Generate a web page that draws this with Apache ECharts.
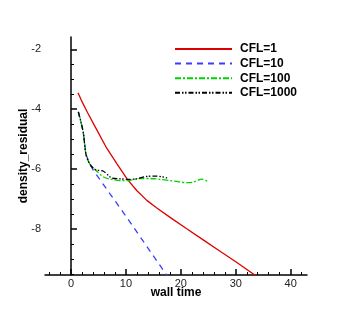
<!DOCTYPE html>
<html><head><meta charset="utf-8">
<script src="https://cdn.jsdelivr.net/npm/echarts@6/dist/echarts.min.js"></script>
<style>html,body{margin:0;padding:0;background:#fff}#c{width:349px;height:310px}</style>
</head><body><div id="c"></div>
<script>
const seriesNames = ['CFL=1', 'CFL=10', 'CFL=100', 'CFL=1000'];
const cfl1 = [[1.27,-3.45],[1.8,-3.67],[3,-4.11],[4.5,-4.62],[6.5,-5.3],[8.4,-5.83],[10.26,-6.34],[12,-6.72],[13.8,-7.04],[15.5,-7.28],[18.3,-7.64],[21,-7.98],[24,-8.35],[27,-8.72],[30,-9.09],[34,-9.6]];
const cfl10 = [[1.33,-4.09],[1.8,-4.42],[2.24,-4.79],[2.73,-5.51],[3.46,-5.84],[4.07,-6.04],[10.0,-7.57],[17.6,-9.58]];
const cfl100 = [[1.33,-4.09],[1.8,-4.42],[2.24,-4.79],[2.73,-5.51],[3.46,-5.84],[4.37,-6.01],[4.98,-6.12],[6.0,-6.27],[7.4,-6.34],[8.93,-6.38],[10.75,-6.37],[12.6,-6.31],[14.4,-6.31],[16.2,-6.34],[18.0,-6.38],[19.6,-6.42],[21.1,-6.45],[22.3,-6.43],[23.8,-6.33],[25.0,-6.42]];
const cfl1000 = [[1.33,-4.09],[1.8,-4.42],[2.24,-4.79],[2.73,-5.51],[3.46,-5.84],[4.37,-6.01],[4.98,-6.04],[5.9,-6.07],[7.4,-6.29],[8.93,-6.32],[10.4,-6.34],[11.97,-6.32],[13.8,-6.24],[15.6,-6.23],[17.5,-6.29]];
const xMajor = [0,10,20,30,40];
const xMinor = [-4,-2,2,4,6,8,12,14,16,18,22,24,26,28,32,34,36,38,42];
const yMajor = [-8,-6,-4,-2];
const yMinor = [-9.5,-9,-8.5,-7.5,-7,-6.5,-5.5,-5,-4.5,-3.5,-3,-2.5];
const X_MIN = -4.74, X_MAX = 42.97, Y_MIN = -9.53, Y_MAX = -1.59;

const chart = echarts.init(document.getElementById('c'));
const lab = {color:'#222', fontFamily:'Liberation Sans, Arial', fontSize:11};
chart.setOption({
  animation:false,
  grid:{left:45,right:42,top:37,bottom:35},
  legend:{orient:'vertical',left:169,top:38,itemWidth:57,itemHeight:12,itemGap:2.6,
    itemStyle:{opacity:0},
    textStyle:{fontFamily:'Liberation Sans, Arial',fontSize:12,fontWeight:'bold',color:'#000',padding:[0,0,0,3]},
    data:seriesNames},
  xAxis:[
    {type:'value',min:X_MIN,max:X_MAX,name:'wall time',nameLocation:'middle',nameGap:12,nameMoveOverlap:false,
     nameTextStyle:{fontFamily:'Liberation Sans, Arial',fontSize:12,fontWeight:'bold',color:'#000',verticalAlign:'top'},
     axisLine:{lineStyle:{color:'#000',width:1.5}},
     axisTick:{inside:true,length:6,customValues:xMajor,lineStyle:{color:'#000',width:1.5}},
     axisLabel:{customValues:xMajor,margin:3,...lab},splitLine:{show:false}},
    {type:'value',min:X_MIN,max:X_MAX,position:'bottom',
     axisLine:{show:false},axisTick:{inside:true,length:3,customValues:xMinor,lineStyle:{color:'#000',width:1}},
     axisLabel:{show:false},splitLine:{show:false}}
  ],
  yAxis:[
    {type:'value',min:Y_MIN,max:Y_MAX,name:'density_residual',nameLocation:'middle',nameGap:15,nameMoveOverlap:false,
     nameTextStyle:{fontFamily:'Liberation Sans, Arial',fontSize:12,fontWeight:'bold',color:'#000'},
     axisLine:{show:true,lineStyle:{color:'#000',width:1.5}},
     axisTick:{show:true,inside:true,length:6,customValues:yMajor,lineStyle:{color:'#000',width:1.5}},
     axisLabel:{customValues:yMajor,margin:4,...lab},splitLine:{show:false}},
    {type:'value',min:Y_MIN,max:Y_MAX,position:'left',
     axisLine:{show:false},axisTick:{show:true,inside:true,length:3,customValues:yMinor,lineStyle:{color:'#000',width:1}},
     axisLabel:{show:false},splitLine:{show:false}}
  ],
  series:[
    {name:seriesNames[0],type:'line',data:cfl1,symbol:'none',lineStyle:{color:'#dd0000',width:1.3},itemStyle:{color:'#dd0000'}},
    {name:seriesNames[1],type:'line',data:cfl10,symbol:'none',lineStyle:{color:'#3c3cff',width:1.3,type:[6,5]},itemStyle:{color:'#3c3cff'}},
    {name:seriesNames[2],type:'line',data:cfl100,symbol:'none',smooth:0.3,lineStyle:{color:'#00d000',width:1.3,type:[6,2,2,2]},itemStyle:{color:'#00d000'}},
    {name:seriesNames[3],type:'line',data:cfl1000,symbol:'none',smooth:0.3,lineStyle:{color:'#000',width:1.3,type:[5,2,1.5,1.5,1.5,2]},itemStyle:{color:'#000'}}
  ]
});
</script></body></html>
